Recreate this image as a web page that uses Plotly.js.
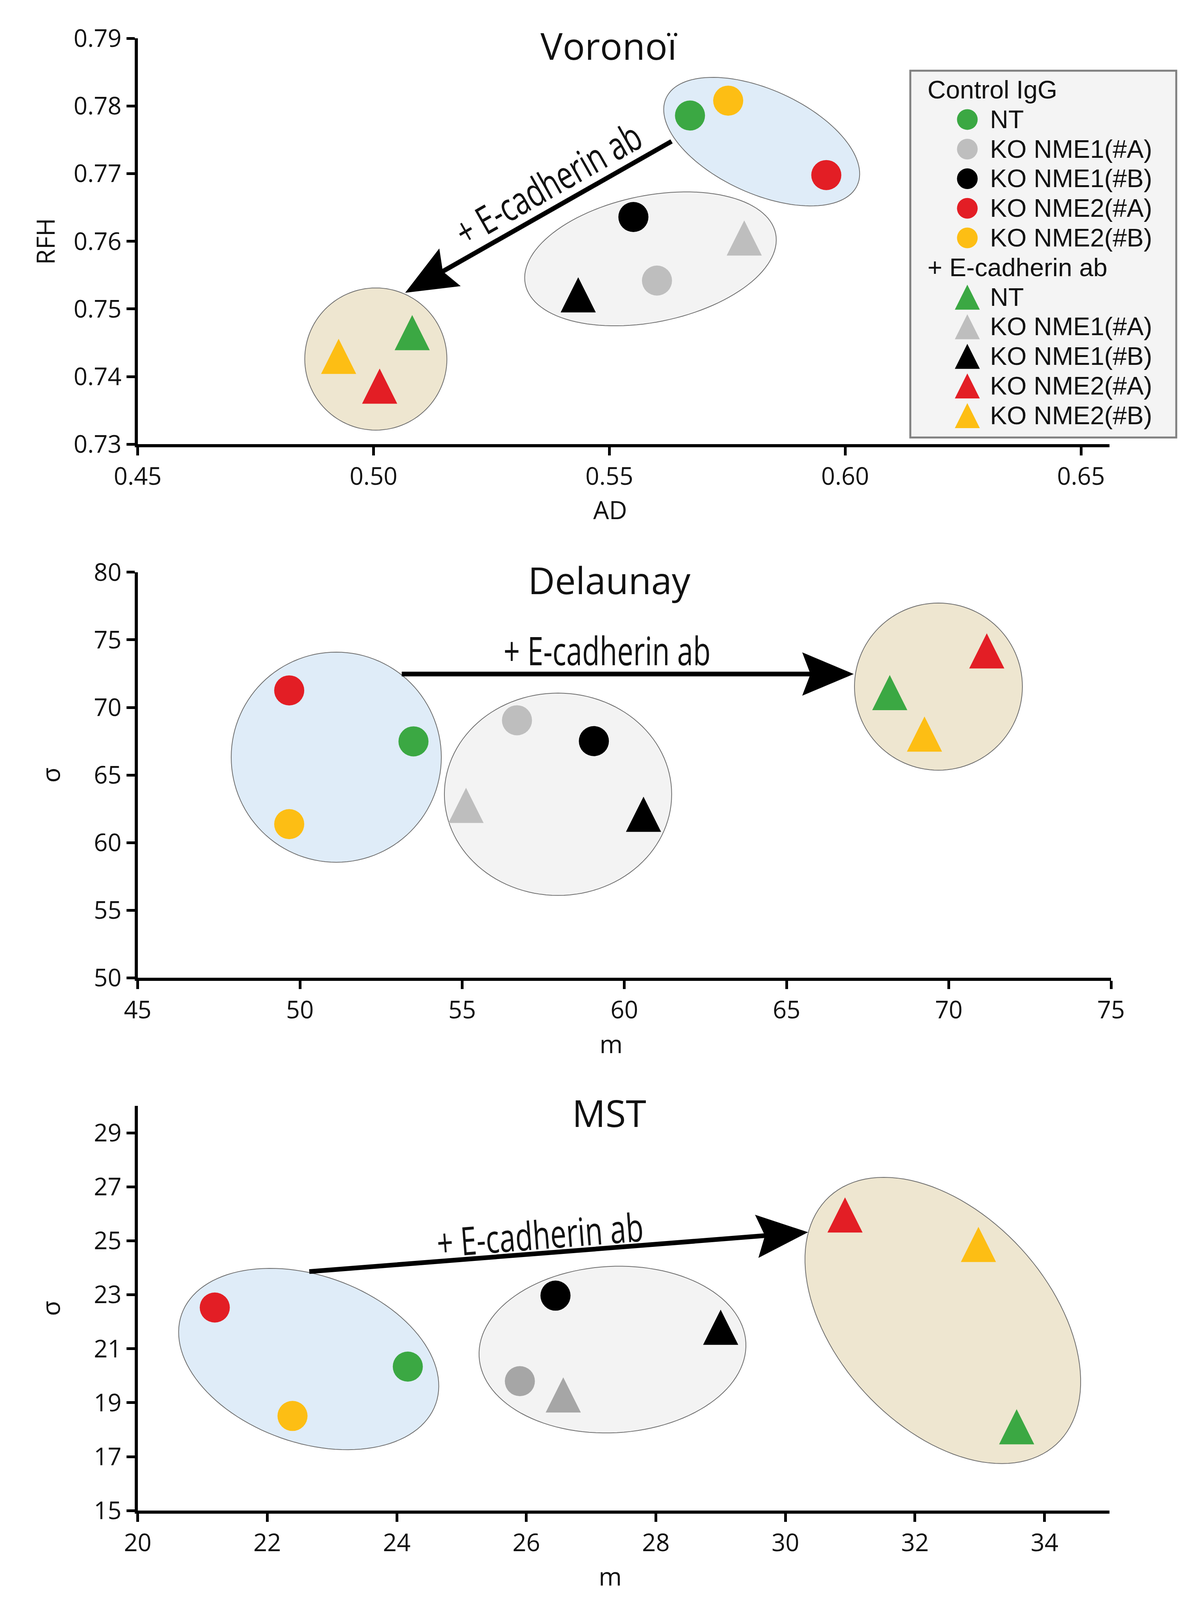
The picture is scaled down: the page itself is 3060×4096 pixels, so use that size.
<!DOCTYPE html>
<html>
<head>
<meta charset="utf-8">
<script src="https://cdn.plot.ly/plotly-3.0.1.min.js"></script>
<style>html,body{margin:0;padding:0;background:#fff}#chart{width:3060px;height:4096px}</style>
</head>
<body>
<div id="chart"></div>
<script>
// ---------------- DATA ----------------
const groupNames = ['NT', 'KO NME1(#A)', 'KO NME1(#B)', 'KO NME2(#A)', 'KO NME2(#B)'];
const conditionNames = ['Control IgG', '+ E-cadherin ab'];
const panelTitles = ['Voronoï', 'Delaunay', 'MST'];
const arrowLabel = '+ E-cadherin ab';

// Voronoï : AD (x) vs RFH (y)
const voronoiCtrlAD  = [0.5671, 0.5601, 0.5551, 0.5960, 0.5752];
const voronoiCtrlRFH = [0.7786, 0.7542, 0.7636, 0.7698, 0.7808];
const voronoiEcadAD  = [0.5082, 0.5786, 0.5434, 0.5013, 0.4926];
const voronoiEcadRFH = [0.7465, 0.7605, 0.7521, 0.7386, 0.7430];

// Delaunay : m (x) vs sigma (y)
const delaunayCtrlM     = [53.50, 56.69, 59.06, 49.67, 49.67];
const delaunayCtrlSigma = [67.49, 69.05, 67.51, 71.26, 61.37];
const delaunayEcadM     = [68.18, 55.12, 60.59, 71.17, 69.25];
const delaunayEcadSigma = [71.10, 62.76, 62.10, 74.18, 68.03];

// MST : m (x) vs sigma (y)
const mstCtrlM     = [24.17, 25.90, 26.45, 21.19, 22.39];
const mstCtrlSigma = [20.34, 19.80, 22.97, 22.53, 18.51];
const mstEcadM     = [33.57, 26.57, 29.00, 30.92, 32.98];
const mstEcadSigma = [18.11, 19.29, 21.80, 25.96, 24.87];

// tick labels
const voronoiXTicks = [0.45, 0.50, 0.55, 0.60, 0.65];
const voronoiXText  = ['0.45', '0.50', '0.55', '0.60', '0.65'];
const voronoiYTicks = [0.73, 0.74, 0.75, 0.76, 0.77, 0.78, 0.79];
const voronoiYText  = ['0.73', '0.74', '0.75', '0.76', '0.77', '0.78', '0.79'];
const delaunayXTicks = [45, 50, 55, 60, 65, 70, 75];
const delaunayYTicks = [50, 55, 60, 65, 70, 75, 80];
const mstXTicks = [20, 22, 24, 26, 28, 30, 32, 34];
const mstYTicks = [15, 17, 19, 21, 23, 25, 27, 29];

// ---------------- STYLE / LAYOUT ----------------
const W = 3060, H = 4096;
const FONT = 'Open Sans, Noto Sans, sans-serif';
const LEGEND_FAMILY = 'Liberation Sans, Arimo, Arial, sans-serif';
const groupColors = ['#3BA843', '#BEBEBE', '#000000', '#E31E25', '#FDBE14'];
const groupColorsMST = ['#3BA843', '#A6A6A6', '#000000', '#E31E25', '#FDBE14'];
const CIRCLE_SIZE = 77;
const TRI_SIZE = 90;
const LEGEND_FONT = 65;
const LABEL_WIDTH = 530;
const XTITLE_SHIFT = -34;

const panels = [
  { ax: '', title: panelTitles[0], xTitle: 'AD', yTitle: 'RFH',
    ctrl: [voronoiCtrlAD, voronoiCtrlRFH], ecad: [voronoiEcadAD, voronoiEcadRFH],
    xr: [0.45, 0.656], yr: [0.73, 0.79],
    xdom: [0.11523, 0.92827], ydom: [0.72234, 0.97598],
    xt: [voronoiXTicks, voronoiXText], yt: [voronoiYTicks, voronoiYText],
    colors: groupColors, titleY: 0.97175, yStandoff: 30 },
  { ax: '2', title: panelTitles[1], xTitle: 'm', yTitle: 'σ',
    ctrl: [delaunayCtrlM, delaunayCtrlSigma], ecad: [delaunayEcadM, delaunayEcadSigma],
    xr: [45, 75], yr: [50, 80],
    xdom: [0.11523, 0.92974], ydom: [0.38882, 0.64236],
    xt: [delaunayXTicks, delaunayXTicks.map(String)], yt: [delaunayYTicks, delaunayYTicks.map(String)],
    colors: groupColors, titleY: 0.6377, yStandoff: 69 },
  { ax: '3', title: panelTitles[2], xTitle: 'm', yTitle: 'σ',
    ctrl: [mstCtrlM, mstCtrlSigma], ecad: [mstEcadM, mstEcadSigma],
    xr: [20, 35], yr: [15, 30],
    xdom: [0.11523, 0.92827], ydom: [0.05586, 0.30874],
    xt: [mstXTicks, mstXTicks.map(String)], yt: [mstYTicks, mstYTicks.map(String)],
    colors: groupColorsMST, titleY: 0.3047, yStandoff: 69 }
];

// cluster ellipses: centre in data units, semi-axes in px, rotation in degrees (clockwise on screen)
const ellipses = [
  [ {c:[0.5823, 0.77474], a:269, b:133, rot:24.5, fill:'#DFECF8'},
    {c:[0.55872, 0.75741], a:327, b:162, rot:-11.4, fill:'#F3F3F3'},
    {c:[0.50049, 0.74260], a:182, b:182, rot:0, fill:'#EEE6D0'} ],
  [ {c:[51.12, 66.32], a:269, b:269, rot:0, fill:'#DFECF8'},
    {c:[57.955, 63.58], a:291, b:259, rot:0, fill:'#F3F3F3'},
    {c:[69.68, 71.54], a:215, b:214, rot:0, fill:'#EEE6D0'} ],
  [ {c:[22.64, 20.62], a:345, b:214, rot:19.4, fill:'#DFECF8'},
    {c:[27.33, 20.97], a:342, b:213, rot:-3, fill:'#F3F3F3'},
    {c:[32.43, 22.05], a:430, b:272, rot:47.5, fill:'#EEE6D0'} ]
];
// arrows: tail -> tip in data units, label centre & angle
const arrows = [
  {tail:[0.56331, 0.77483], tip:[0.50671, 0.75240], lab:[0.5369, 0.7686], ang:-29.6},
  {tail:[53.12, 72.47], tip:[67.07, 72.47], lab:[59.47, 74.24], ang:0},
  {tail:[22.64, 23.86], tip:[30.35, 25.32], lab:[26.21, 25.26], ang:-4.5}
];

function ellipsePath(p, e) {
  const xs = W * (p.xdom[1] - p.xdom[0]) / (p.xr[1] - p.xr[0]);
  const ys = H * (p.ydom[1] - p.ydom[0]) / (p.yr[1] - p.yr[0]);
  const th = e.rot * Math.PI / 180;
  let d = '';
  const N = 120;
  for (let i = 0; i < N; i++) {
    const t = 2 * Math.PI * i / N;
    const dx = e.a * Math.cos(t) * Math.cos(th) - e.b * Math.sin(t) * Math.sin(th);
    const dy = e.a * Math.cos(t) * Math.sin(th) + e.b * Math.sin(t) * Math.cos(th);
    d += (i ? 'L' : 'M') + (e.c[0] + dx / xs).toFixed(6) + ',' + (e.c[1] - dy / ys).toFixed(6);
  }
  return d + 'Z';
}

const traces = [];
const layout = {
  width: W, height: H,
  margin: {l: 0, r: 0, t: 0, b: 0},
  paper_bgcolor: '#ffffff', plot_bgcolor: 'rgba(0,0,0,0)',
  font: {family: FONT, size: 62, color: '#111'},
  showlegend: true,
  legend: {
    x: 2419 / W, y: 0.9543, xanchor: 'left', yanchor: 'top',
    bgcolor: 'rgba(0,0,0,0)', borderwidth: 0,
    font: {family: LEGEND_FAMILY, size: 56, color: '#111'},
    tracegroupgap: 0, itemsizing: 'constant', itemwidth: 106, traceorder: 'grouped'
  },
  shapes: [], annotations: []
};

// legend frame
layout.shapes.push({type: 'rect', xref: 'paper', yref: 'paper', layer: 'below',
  x0: 2331 / W, x1: 3012 / W, y0: 1 - 1120 / H, y1: 1 - 181 / H,
  fillcolor: '#F4F4F4', line: {color: '#808080', width: 5}});

panels.forEach((p, pi) => {
  const xa = 'x' + p.ax, ya = 'y' + p.ax;
  for (let cond = 0; cond < 2; cond++) {
    const src = cond === 0 ? p.ctrl : p.ecad;
    for (let g = 0; g < groupNames.length; g++) {
      const marker = cond === 0
        ? {symbol: 'circle', size: CIRCLE_SIZE, color: p.colors[g], line: {width: 0}}
        : {symbol: 'arrow-down', angle: 180, standoff: TRI_SIZE / 2, size: TRI_SIZE, color: p.colors[g], line: {width: 0}};
      const tr = {
        type: 'scatter', mode: 'markers',
        x: [src[0][g]], y: [src[1][g]],
        xaxis: xa, yaxis: ya,
        name: groupNames[g],
        legendgroup: cond === 0 ? 'ctrl' : 'ecad',
        showlegend: pi === 0,
        marker: marker,
        hovertemplate: panelTitles[pi] + ' ' + conditionNames[cond] + ' ' + groupNames[g] + '<br>%{x}, %{y}<extra></extra>'
      };
      if (pi === 0 && g === 0) tr.legendgrouptitle = {text: conditionNames[cond], font: {family: LEGEND_FAMILY, size: 56, color: '#111'}};
      traces.push(tr);
    }
  }
  const axCommon = {
    showline: true, linecolor: '#000', linewidth: 8, mirror: false,
    ticks: 'outside', ticklen: 21, tickwidth: 7, tickcolor: '#000',
    showgrid: false, zeroline: false, fixedrange: true,
    tickfont: {family: FONT, size: 62, color: '#111'}, tickmode: 'array'
  };
  layout['xaxis' + p.ax] = Object.assign({}, axCommon, {
    domain: p.xdom, range: p.xr, anchor: ya,
    tickvals: p.xt[0], ticktext: p.xt[1],
    title: {text: p.xTitle, font: {family: FONT, size: 64, color: '#111'}, standoff: 30}
  });
  layout['yaxis' + p.ax] = Object.assign({}, axCommon, {
    domain: p.ydom, range: p.yr, anchor: xa,
    tickvals: p.yt[0], ticktext: p.yt[1],
    title: {text: p.yTitle, font: {family: FONT, size: 64, color: '#111'}, standoff: p.yStandoff}
  });
  // panel title
  layout.annotations.push({xref: 'paper', yref: 'paper', x: 0.5098, y: p.titleY,
    xanchor: 'center', yanchor: 'middle', showarrow: false, text: p.title,
    font: {family: FONT, size: 95, color: '#111'}});
  // ellipses
  ellipses[pi].forEach(e => layout.shapes.push({type: 'path', xref: xa, yref: ya, layer: 'below',
    path: ellipsePath(p, e), fillcolor: e.fill, line: {color: '#6E6E6E', width: 2}}));
  // arrow + label
  const A = arrows[pi];
  layout.annotations.push({xref: xa, yref: ya, axref: xa, ayref: ya,
    x: A.tip[0], y: A.tip[1], ax: A.tail[0], ay: A.tail[1], text: '',
    showarrow: true, arrowhead: 2, arrowsize: 2.2, arrowwidth: 12, arrowcolor: '#000'});
  layout.annotations.push({xref: xa, yref: ya, x: A.lab[0], y: A.lab[1], text: arrowLabel,
    showarrow: false, textangle: A.ang, xanchor: 'center', yanchor: 'middle',
    font: {family: FONT, size: 100, color: '#111'}});
});

Plotly.newPlot('chart', traces, layout, {staticPlot: true, displayModeBar: false}).then(gd => {
  // let enlarged legend content show (no clipping to the auto-sized box)
  gd.querySelectorAll('.legend [clip-path]').forEach(el => el.removeAttribute('clip-path'));
  // legend symbols as large as in the figure's legend
  gd.querySelectorAll('.legend .legendpoints path.scatterpts').forEach(el => {
    const d = el.getAttribute('d') || '';
    if (d.indexOf('A') >= 0) {
      const r = 26.5;
      el.setAttribute('d', 'M' + r + ',0A' + r + ',' + r + ' 0 1,1 0,-' + r + 'A' + r + ',' + r + ' 0 0,1 ' + r + ',0Z');
    } else {
      el.setAttribute('d', 'M0,-32L32,32H-32Z');
    }
  });
  // legend text: larger font, group titles out-dented
  gd.querySelectorAll('.legend text.legendtext').forEach(el => {
    el.style.fontSize = LEGEND_FONT + 'px';
    if (conditionNames.indexOf(el.textContent.trim()) >= 0) el.setAttribute('transform', 'translate(-49,0)');
  });
  // notched arrow heads like the figure's
  gd.querySelectorAll('.annotation-arrow-g path').forEach(el => {
    const d = el.getAttribute('d') || '';
    if (d.indexOf('M-3.7') === 0) el.setAttribute('d', 'M1.3,0L-3.7,-2.1L-2.9,0L-3.7,2.1Z');
  });
  // condensed arrow labels
  gd.querySelectorAll('.annotation text').forEach(el => {
    if (el.textContent.trim() === arrowLabel) {
      const w = el.getBBox().width;
      if (w > LABEL_WIDTH * 1.03) {
        el.style.transformBox = 'fill-box';
        el.style.transformOrigin = 'center';
        el.style.transform = 'scaleX(' + (LABEL_WIDTH / w).toFixed(4) + ')';
      }
    }
  });
  // x-axis titles sit slightly left of the axis centre in the figure
  gd.querySelectorAll('.g-xtitle text, .g-x2title text, .g-x3title text').forEach(el => {
    el.setAttribute('transform', 'translate(' + XTITLE_SHIFT + ',0) ' + (el.getAttribute('transform') || ''));
  });
});
</script>
</body>
</html>
